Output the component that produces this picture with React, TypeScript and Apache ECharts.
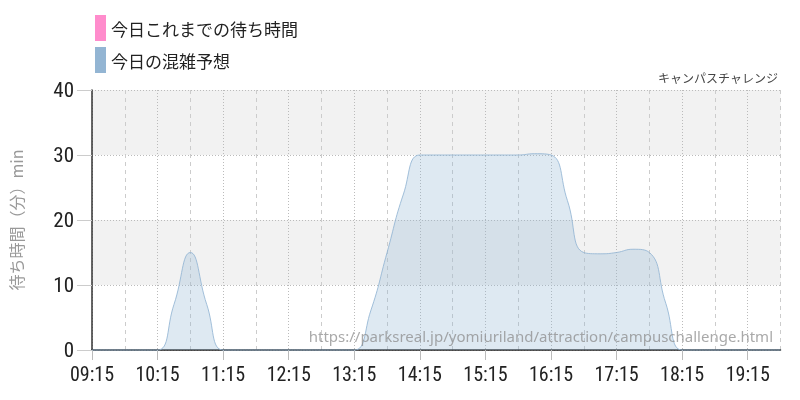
import { useEffect, useRef } from "react";
import * as echarts from "echarts";

// 15分刻みの時刻
const times = [
  "09:15", "09:30", "09:45", "10:00", "10:15", "10:30", "10:45", "11:00",
  "11:15", "11:30", "11:45", "12:00", "12:15", "12:30", "12:45", "13:00",
  "13:15", "13:30", "13:45", "14:00", "14:15", "14:30", "14:45", "15:00",
  "15:15", "15:30", "15:45", "16:00", "16:15", "16:30", "16:45", "17:00",
  "17:15", "17:30", "17:45", "18:00", "18:15", "18:30", "18:45", "19:00",
  "19:15", "19:30", "19:45",
];

// 今日これまでの待ち時間 (まだ無し)
const actualWait: number[] = [];

// 今日の混雑予想
const forecast = [
  0, 0, 0, 0, 0, 7, 15, 7,
  0, 0, 0, 0, 0, 0, 0, 0,
  0, 6, 15, 24, 30, 30, 30, 30,
  30, 30, 30, 30.2, 30, 23, 15, 14.8,
  15, 15.5, 15, 7.2, 0, 0, 0, 0,
  0, 0, 0,
];

const seriesNames = ["今日これまでの待ち時間", "今日の混雑予想"];
const seriesColors = ["#ff8ccc", "#93b5d3"];
const yAxisName = "待ち時間（分）min";
const siteUrl = "https://parksreal.jp/yomiuriland/attraction/campuschallenge.html";
const attractionName = "キャンパスチャレンジ";

const numFont = "'Roboto Condensed', 'Liberation Sans Narrow', Roboto, sans-serif";
const jpFont = "'Noto Sans CJK JP', sans-serif";

const App = () => {
  const chartRef = useRef<HTMLDivElement | null>(null);

  useEffect(() => {
    if (!chartRef.current) return;
    const chart = echarts.init(chartRef.current, null, { renderer: "svg" });

    chart.setOption({
      animation: false,
      textStyle: { fontFamily: jpFont },
      legend: {
        orient: "vertical",
        left: 90,
        top: 10,
        itemWidth: 11,
        itemHeight: 26,
        itemGap: 6,
        icon: "rect",
        textStyle: { fontSize: 17, color: "#222" },
        data: seriesNames,
      },
      grid: { left: 90, right: 19.5, top: 90, bottom: 50 },
      graphic: [
        {
          type: "text",
          right: 22,
          top: 71,
          style: { text: attractionName, fontSize: 12, fill: "#444", fontFamily: jpFont },
        },
        {
          type: "text",
          right: 27,
          top: 328,
          z: 100,
          style: {
            text: siteUrl,
            fontSize: 15,
            fill: "rgba(140,140,140,0.75)",
            fontFamily: "'Noto Sans', sans-serif",
          },
        },
      ],
      xAxis: [
        {
          type: "category",
          data: times,
          boundaryGap: false,
          axisLine: { lineStyle: { color: "#222", width: 1.5 } },
          axisTick: { interval: 3, length: 10, lineStyle: { color: "#bbb" } },
          axisLabel: {
            interval: 3,
            fontSize: 20,
            color: "#222",
            margin: 14,
            fontFamily: numFont,
          },
          splitLine: {
            show: true,
            interval: (i: number) => i % 4 === 0,
            lineStyle: { type: [1, 2], color: "#bbb" },
          },
        },
        {
          type: "category",
          data: times,
          boundaryGap: false,
          position: "bottom",
          axisLine: { show: false },
          axisTick: { show: false },
          axisLabel: { show: false },
          splitLine: {
            show: true,
            interval: (i: number) => i % 4 === 2,
            lineStyle: { type: [4, 4], color: "#ccc" },
          },
        },
      ],
      yAxis: {
        type: "value",
        min: 0,
        max: 40,
        interval: 10,
        name: yAxisName,
        nameLocation: "middle",
        nameGap: 68,
        nameTextStyle: { fontSize: 16, color: "#999", fontFamily: jpFont },
        axisLine: { show: true, lineStyle: { color: "#333", width: 1.5 } },
        axisTick: { show: true, length: 15, lineStyle: { color: "#ccc" } },
        axisLabel: { fontSize: 21, color: "#222", margin: 18, fontFamily: numFont },
        splitLine: { lineStyle: { type: [1, 2], color: "#bbb" } },
        splitArea: {
          show: true,
          areaStyle: { color: ["rgba(255,255,255,0)", "#f2f2f2"] },
        },
      },
      series: [
        {
          name: seriesNames[0],
          type: "line",
          data: actualWait,
          color: seriesColors[0],
          showSymbol: false,
          smooth: 0.5,
        },
        {
          name: seriesNames[1],
          type: "line",
          data: forecast,
          color: seriesColors[1],
          showSymbol: false,
          smooth: 0.5,
          clip: false,
          lineStyle: { width: 1, color: seriesColors[1], opacity: 0.85 },
          areaStyle: { color: seriesColors[1], opacity: 0.3 },
        },
      ],
    });

    return () => {
      chart.dispose();
    };
  }, []);

  return (
    <div
      ref={chartRef}
      style={{ position: "fixed", left: 0, top: 0, width: 800, height: 400 }}
    />
  );
};

export default App;
